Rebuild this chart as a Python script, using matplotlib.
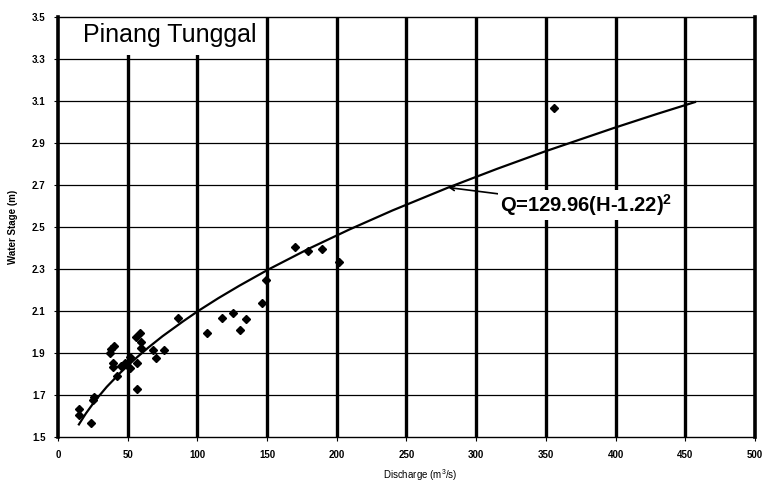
import matplotlib
matplotlib.use("Agg")
import matplotlib.pyplot as plt

# Observed data (discharge m3/s, water stage m)
obs_q = [15.2, 15.2, 23.6, 25.2, 26.0, 37.1, 38.3, 40.0, 39.5, 39.5, 42.6, 45.5,
         47.9, 51.4, 51.4, 55.7, 58.6, 59.8, 59.3, 56.9, 56.9, 68.1, 70.0, 76.4,
         86.4, 107.2, 117.4, 125.2, 130.7, 134.8, 146.7, 149.0, 170.0, 179.5,
         189.5, 201.4, 355.7]
obs_h = [1.632, 1.605, 1.565, 1.676, 1.690, 1.900, 1.918, 1.933, 1.851, 1.835, 1.790, 1.838,
         1.851, 1.882, 1.827, 1.977, 1.994, 1.954, 1.922, 1.854, 1.727, 1.914, 1.875, 1.914,
         2.065, 1.996, 2.065, 2.089, 2.010, 2.060, 2.140, 2.250, 2.405, 2.385,
         2.395, 2.335, 3.065]

# Rating curve
curve_q = [15, 20, 27, 35, 45, 55, 65, 75, 90, 101, 115, 130, 151, 180, 209, 240,
           280, 315, 349, 399, 430, 457]
curve_h = [1.56, 1.612, 1.676, 1.739, 1.808, 1.870, 1.927, 1.980, 2.052, 2.102, 2.161,
           2.220, 2.298, 2.397, 2.488, 2.579, 2.688, 2.777, 2.859, 2.972, 3.039, 3.095]

x_ticks = [0, 50, 100, 150, 200, 250, 300, 350, 400, 450, 500]
y_ticks = [1.5, 1.7, 1.9, 2.1, 2.3, 2.5, 2.7, 2.9, 3.1, 3.3, 3.5]

title_text = "Pinang Tunggal"
eq_text = r"Q=129.96(H-1.22)$^\mathbf{2}$"
arrow_target = (280, 2.688)

plt.rcParams['font.family'] = ['Liberation Sans', 'DejaVu Sans']
plt.rcParams['mathtext.fontset'] = 'custom'
plt.rcParams['mathtext.bf'] = 'Liberation Sans:bold'
plt.rcParams['mathtext.rm'] = 'Liberation Sans'

fig = plt.figure(figsize=(7.68, 4.86), dpi=100)
ax = fig.add_axes([0.0755, 0.1008, 0.9075, 0.8642])
ax.set_xlim(0, 500)
ax.set_ylim(1.5, 3.5)

# grid
for y in y_ticks[1:-1]:
    ax.axhline(y, color='black', lw=0.9, zorder=1)
for x in x_ticks[1:-1]:
    ax.axvline(x, color='black', lw=2.4, zorder=1)

for side in ['left', 'right']:
    ax.spines[side].set_linewidth(2.6)
for side in ['top', 'bottom']:
    ax.spines[side].set_linewidth(1.0)
for sp in ax.spines.values():
    sp.set_zorder(6)

ax.plot(curve_q, curve_h, color='black', lw=1.6, zorder=3)
ax.plot(obs_q, obs_h, linestyle='none', marker='D', markersize=4,
        color='black', zorder=4)

ax.set_xticks(x_ticks)
ax.set_yticks(y_ticks)
ax.set_xticklabels([str(v) for v in x_ticks], fontsize=7, fontweight='bold')
ax.set_yticklabels([f"{v:.1f}" for v in y_ticks], fontsize=7, fontweight='bold')
ax.tick_params(axis='both', length=3, width=0.8, pad=6)

ax.set_xlabel("Discharge (m$^3$/s)", fontsize=7)
ax.xaxis.set_label_coords(0.52, -0.072)
ax.set_ylabel("Water Stage (m)", fontsize=7, fontweight='bold')
ax.yaxis.set_label_coords(-0.058, 0.5)

ax.text(80, 3.415, title_text, fontsize=18, ha='center', va='center', zorder=5,
        bbox=dict(facecolor='white', edgecolor='none', pad=6))

ax.annotate(eq_text, xy=arrow_target, xytext=(379, 2.605), fontsize=14.5,
            fontweight='bold', ha='center', va='center', zorder=5,
            bbox=dict(facecolor='white', edgecolor='none', pad=1.5),
            arrowprops=dict(arrowstyle='->', color='black', lw=1.2,
                            shrinkA=0, shrinkB=0, mutation_scale=8))

fig.savefig("out.png", dpi=100)
